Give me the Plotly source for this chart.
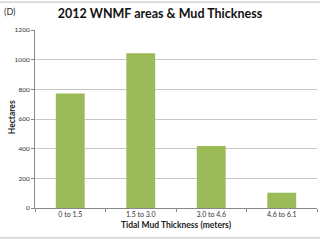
import plotly.graph_objects as go

categories = ["0 to 1.5", "1.5 to 3.0", "3.0 to 4.6", "4.6 to 6.1"]
hectares = [772, 1044, 418, 103]
y_ticks = [0, 200, 400, 600, 800, 1000, 1200]

fig = go.Figure(go.Bar(x=categories, y=hectares, marker_color="#9BBB59",
                       marker_line_width=0, width=0.41))

fig.update_layout(
    width=320, height=240,
    margin=dict(l=35, r=3, t=30, b=32),
    paper_bgcolor="white", plot_bgcolor="white",
    font=dict(family="Lato, Open Sans, sans-serif", color="#222"),
    showlegend=False,
    title=dict(text="<b>2012 WNMF areas & Mud Thickness</b>", x=0.5, xanchor="center",
               y=1 - 14 / 240, yanchor="middle", font=dict(size=12.5, color="#111")),
    annotations=[
        dict(text="(D)", xref="paper", yref="paper", x=-33 / 282, y=1 + 19 / 178.5,
             xanchor="left", yanchor="middle", showarrow=False,
             font=dict(size=9, color="#333")),
        dict(text="<b>Hectares</b>", xref="paper", yref="paper", x=-23 / 282, y=0.51,
             xanchor="center", yanchor="middle", showarrow=False, textangle=-90,
             font=dict(size=8.5, color="#222")),
    ],
    shapes=[
        dict(type="line", xref="paper", yref="paper", x0=-35 / 282, x1=1 + 3 / 282,
             y0=1 + 28 / 178.5, y1=1 + 28 / 178.5, line=dict(color="#bbbbbb", width=1)),
        dict(type="line", xref="paper", yref="paper", x0=-35 / 282, x1=1 + 3 / 282,
             y0=-30 / 178.5, y1=-30 / 178.5, line=dict(color="#bbbbbb", width=1)),
    ],
)

fig.update_xaxes(
    type="category", tickson="boundaries", ticks="outside", ticklen=3, tickcolor="#888",
    showline=True, linecolor="#888", linewidth=1, showgrid=False,
    tickfont=dict(size=7, color="#333"),
    title=dict(text="<b>Tidal Mud Thickness (meters)</b>", font=dict(size=8.5, color="#222"),
               standoff=4),
)
fig.update_yaxes(
    range=[0, 1200], tickvals=y_ticks, ticks="outside", ticklen=3, tickcolor="#888",
    showline=True, linecolor="#888", linewidth=1,
    showgrid=True, gridcolor="#c8c8c8", gridwidth=1,
    tickfont=dict(size=6.5, color="#333"),
)

fig.write_html("out.html")
